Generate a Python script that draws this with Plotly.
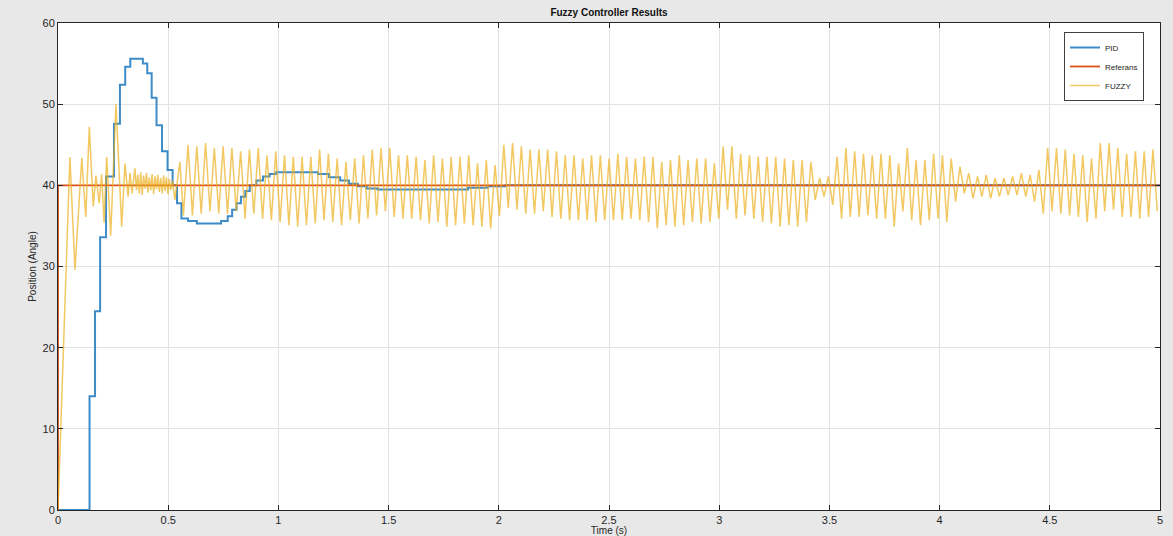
import numpy as np
import plotly.graph_objects as go

# ---------------- data ----------------
# PID response (sampled / step-like), time in s, position in degrees
pid_time = [0.000, 0.143, 0.168, 0.191, 0.218, 0.254, 0.281, 0.305, 0.328, 0.385,
            0.405, 0.425, 0.447, 0.472, 0.497, 0.520, 0.540, 0.560, 0.590, 0.630,
            0.740, 0.770, 0.790, 0.810, 0.830, 0.850, 0.870, 0.900, 0.930, 0.960,
            0.990, 1.180, 1.230, 1.280, 1.320, 1.360, 1.400, 1.450, 1.860, 1.950,
            2.030, 5.000]
pid_value = [0.0, 14.0, 24.5, 33.6, 41.1, 47.6, 52.4, 54.6, 55.6, 55.0,
             53.8, 50.8, 47.4, 44.2, 41.9, 40.0, 37.8, 35.9, 35.6, 35.3,
             35.6, 36.2, 37.0, 37.8, 38.6, 39.3, 40.0, 40.6, 41.1, 41.4,
             41.6, 41.4, 41.0, 40.6, 40.2, 39.9, 39.6, 39.5, 39.7, 39.9,
             40.0, 40.0]

# Reference (step to 40 at t = 0)
ref_time = [0.0, 0.0, 5.0]
ref_value = [0.0, 40.0, 40.0]

# FUZZY response: irregular start-up part (extreme points)
fuzzy_early_time = [0.000, 0.054, 0.077, 0.108, 0.126, 0.142, 0.160, 0.172, 0.187, 0.198,
                    0.209, 0.221, 0.239, 0.263, 0.289, 0.304, 0.318, 0.327, 0.336, 0.349,
                    0.356, 0.362, 0.369, 0.375, 0.382, 0.388, 0.395, 0.401, 0.408, 0.414,
                    0.421, 0.427, 0.434, 0.440, 0.447, 0.453, 0.460, 0.466, 0.473, 0.479,
                    0.486, 0.492, 0.499, 0.505, 0.512, 0.520, 0.530, 0.553, 0.569]
fuzzy_early_value = [0.0, 43.5, 29.6, 43.4, 36.1, 47.2, 37.4, 41.2, 37.8, 41.4,
                     35.4, 43.5, 33.8, 50.0, 34.9, 42.7, 38.6, 41.5, 39.0, 42.1,
                     39.4, 41.3, 39.0, 41.6, 38.8, 41.2, 39.6, 41.5, 39.1, 41.0,
                     39.4, 41.4, 38.9, 41.1, 39.5, 41.3, 39.2, 40.9, 39.0, 41.2,
                     39.3, 41.0, 38.9, 40.8, 39.4, 40.6, 38.2, 42.9, 36.3]

# FUZZY response: steady oscillation, one peak and one trough per cycle
fuzzy_cycle_start = 0.59     # time of first regular peak (s)
fuzzy_cycle_period = 0.0398  # oscillation period (s)
fuzzy_peaks = [
    45.0, 44.8, 45.2, 44.6, 44.8, 44.6, 44.2, 44.4, 44.6, 43.7,
    44.2, 43.7, 43.5, 43.5, 43.5, 44.4, 43.9, 43.3, 42.9, 43.3,
    43.7, 44.4, 44.6, 44.6, 43.7, 43.7, 43.5, 43.1, 43.7, 43.3,
    43.5, 43.5, 43.7, 42.7, 43.1, 42.5, 45.0, 45.2, 44.8, 44.4,
    44.4, 44.4, 44.2, 43.7, 43.7, 43.3, 43.7, 43.7, 43.3, 43.9,
    43.5, 43.3, 43.5, 43.5, 42.9, 43.1, 43.7, 43.1, 43.3, 43.3,
    42.7, 44.8, 44.8, 43.9, 43.7, 43.5, 43.5, 43.5, 43.3, 43.1,
    43.1, 42.9, 40.9, 41.1, 43.5, 44.6, 44.2, 43.9, 43.7, 43.9,
    43.7, 42.7, 44.6, 43.1, 43.1, 43.9, 43.7, 43.3, 42.3, 41.5,
    41.1, 41.3, 40.9, 40.9, 41.1, 41.5, 41.3, 41.9, 44.6, 44.6,
    44.4, 43.9, 43.7, 43.3, 45.2, 45.2, 44.6, 43.9, 44.2, 44.2,
    44.4]
fuzzy_troughs = [
    36.3, 36.5, 36.8, 36.5, 36.5, 36.8, 35.9, 36.5, 35.9, 35.7,
    35.5, 35.1, 34.9, 35.1, 35.3, 35.7, 35.5, 35.1, 35.7, 35.3,
    35.9, 36.3, 36.8, 36.1, 35.9, 35.9, 35.7, 35.3, 35.5, 34.9,
    35.1, 35.3, 35.1, 34.9, 34.7, 36.2, 37.2, 37.0, 36.5, 36.5,
    36.8, 36.1, 35.9, 35.7, 35.7, 35.7, 35.5, 35.7, 35.7, 35.7,
    35.9, 35.7, 35.5, 34.7, 35.1, 34.9, 35.1, 35.5, 35.3, 35.5,
    35.9, 37.0, 35.9, 36.3, 35.9, 35.5, 35.3, 34.9, 35.1, 34.9,
    35.5, 38.2, 38.6, 37.6, 35.9, 36.1, 36.1, 36.3, 35.9, 35.9,
    34.9, 36.8, 35.7, 35.1, 35.7, 35.9, 35.5, 38.0, 39.0, 38.4,
    38.6, 38.4, 38.6, 38.8, 38.8, 38.6, 38.0, 36.5, 36.8, 36.5,
    36.3, 36.1, 35.5, 35.9, 36.8, 37.0, 36.1, 36.1, 35.9, 36.1,
    36.8]

# ---------------- build the series ----------------
n = len(fuzzy_peaks)
cycle = np.arange(n)
peak_t = fuzzy_cycle_start + fuzzy_cycle_period * cycle
trough_t = peak_t + fuzzy_cycle_period / 2
reg_t = np.empty(2 * n)
reg_v = np.empty(2 * n)
reg_t[0::2], reg_t[1::2] = peak_t, trough_t
reg_v[0::2], reg_v[1::2] = fuzzy_peaks, fuzzy_troughs
fuzzy_time = np.concatenate([fuzzy_early_time, reg_t])
fuzzy_value = np.concatenate([fuzzy_early_value, reg_v])

FONT = "Liberation Sans, Arial, Helvetica, sans-serif"
AX = "#262626"

fig = go.Figure()
fig.add_trace(go.Scatter(x=pid_time, y=pid_value, mode="lines", name="PID",
                         line=dict(color="#3d8cc8", width=2, shape="hv")))
fig.add_trace(go.Scatter(x=ref_time, y=ref_value, mode="lines", name="Referans",
                         line=dict(color="#D95319", width=1.8)))
fig.add_trace(go.Scatter(x=fuzzy_time, y=fuzzy_value, mode="lines", name="FUZZY",
                         line=dict(color="rgba(237,177,32,0.7)", width=1.5)))

axis_common = dict(
    showline=True, linecolor=AX, linewidth=1, mirror="allticks",
    ticks="inside", ticklen=5, tickcolor=AX, tickwidth=1,
    showgrid=True, gridcolor="#e2e2e2", gridwidth=1,
    zeroline=False, tickfont=dict(family=FONT, size=11, color=AX),
    automargin=False,
)

fig.update_layout(
    width=1173, height=536,
    margin=dict(l=58, r=13, t=23, b=26),
    paper_bgcolor="#e8e8e8", plot_bgcolor="white",
    font=dict(family=FONT, color=AX),
    title=dict(text="<b>Fuzzy Controller Results</b>", x=(58 + 551) / 1173, xanchor="center",
               y=1 - 12 / 536, yanchor="middle", font=dict(family=FONT, size=10, color="#111")),
    xaxis=dict(range=[0, 5], dtick=0.5, tick0=0,
               title=dict(text="Time (s)", font=dict(family=FONT, size=10, color=AX), standoff=8),
               **axis_common),
    yaxis=dict(range=[0, 60], dtick=10, tick0=0,
               title=dict(text="Position (Angle)", font=dict(family=FONT, size=10, color=AX), standoff=4),
               **axis_common),
    legend=dict(x=(1064 - 58) / 1102, xanchor="left", y=(510 - 32) / 487, yanchor="top",
                bgcolor="white", bordercolor="#404040", borderwidth=1,
                font=dict(family=FONT, size=8, color=AX), itemwidth=30,
                tracegroupgap=0),
    showlegend=True,
)

fig.write_html("out.html")
